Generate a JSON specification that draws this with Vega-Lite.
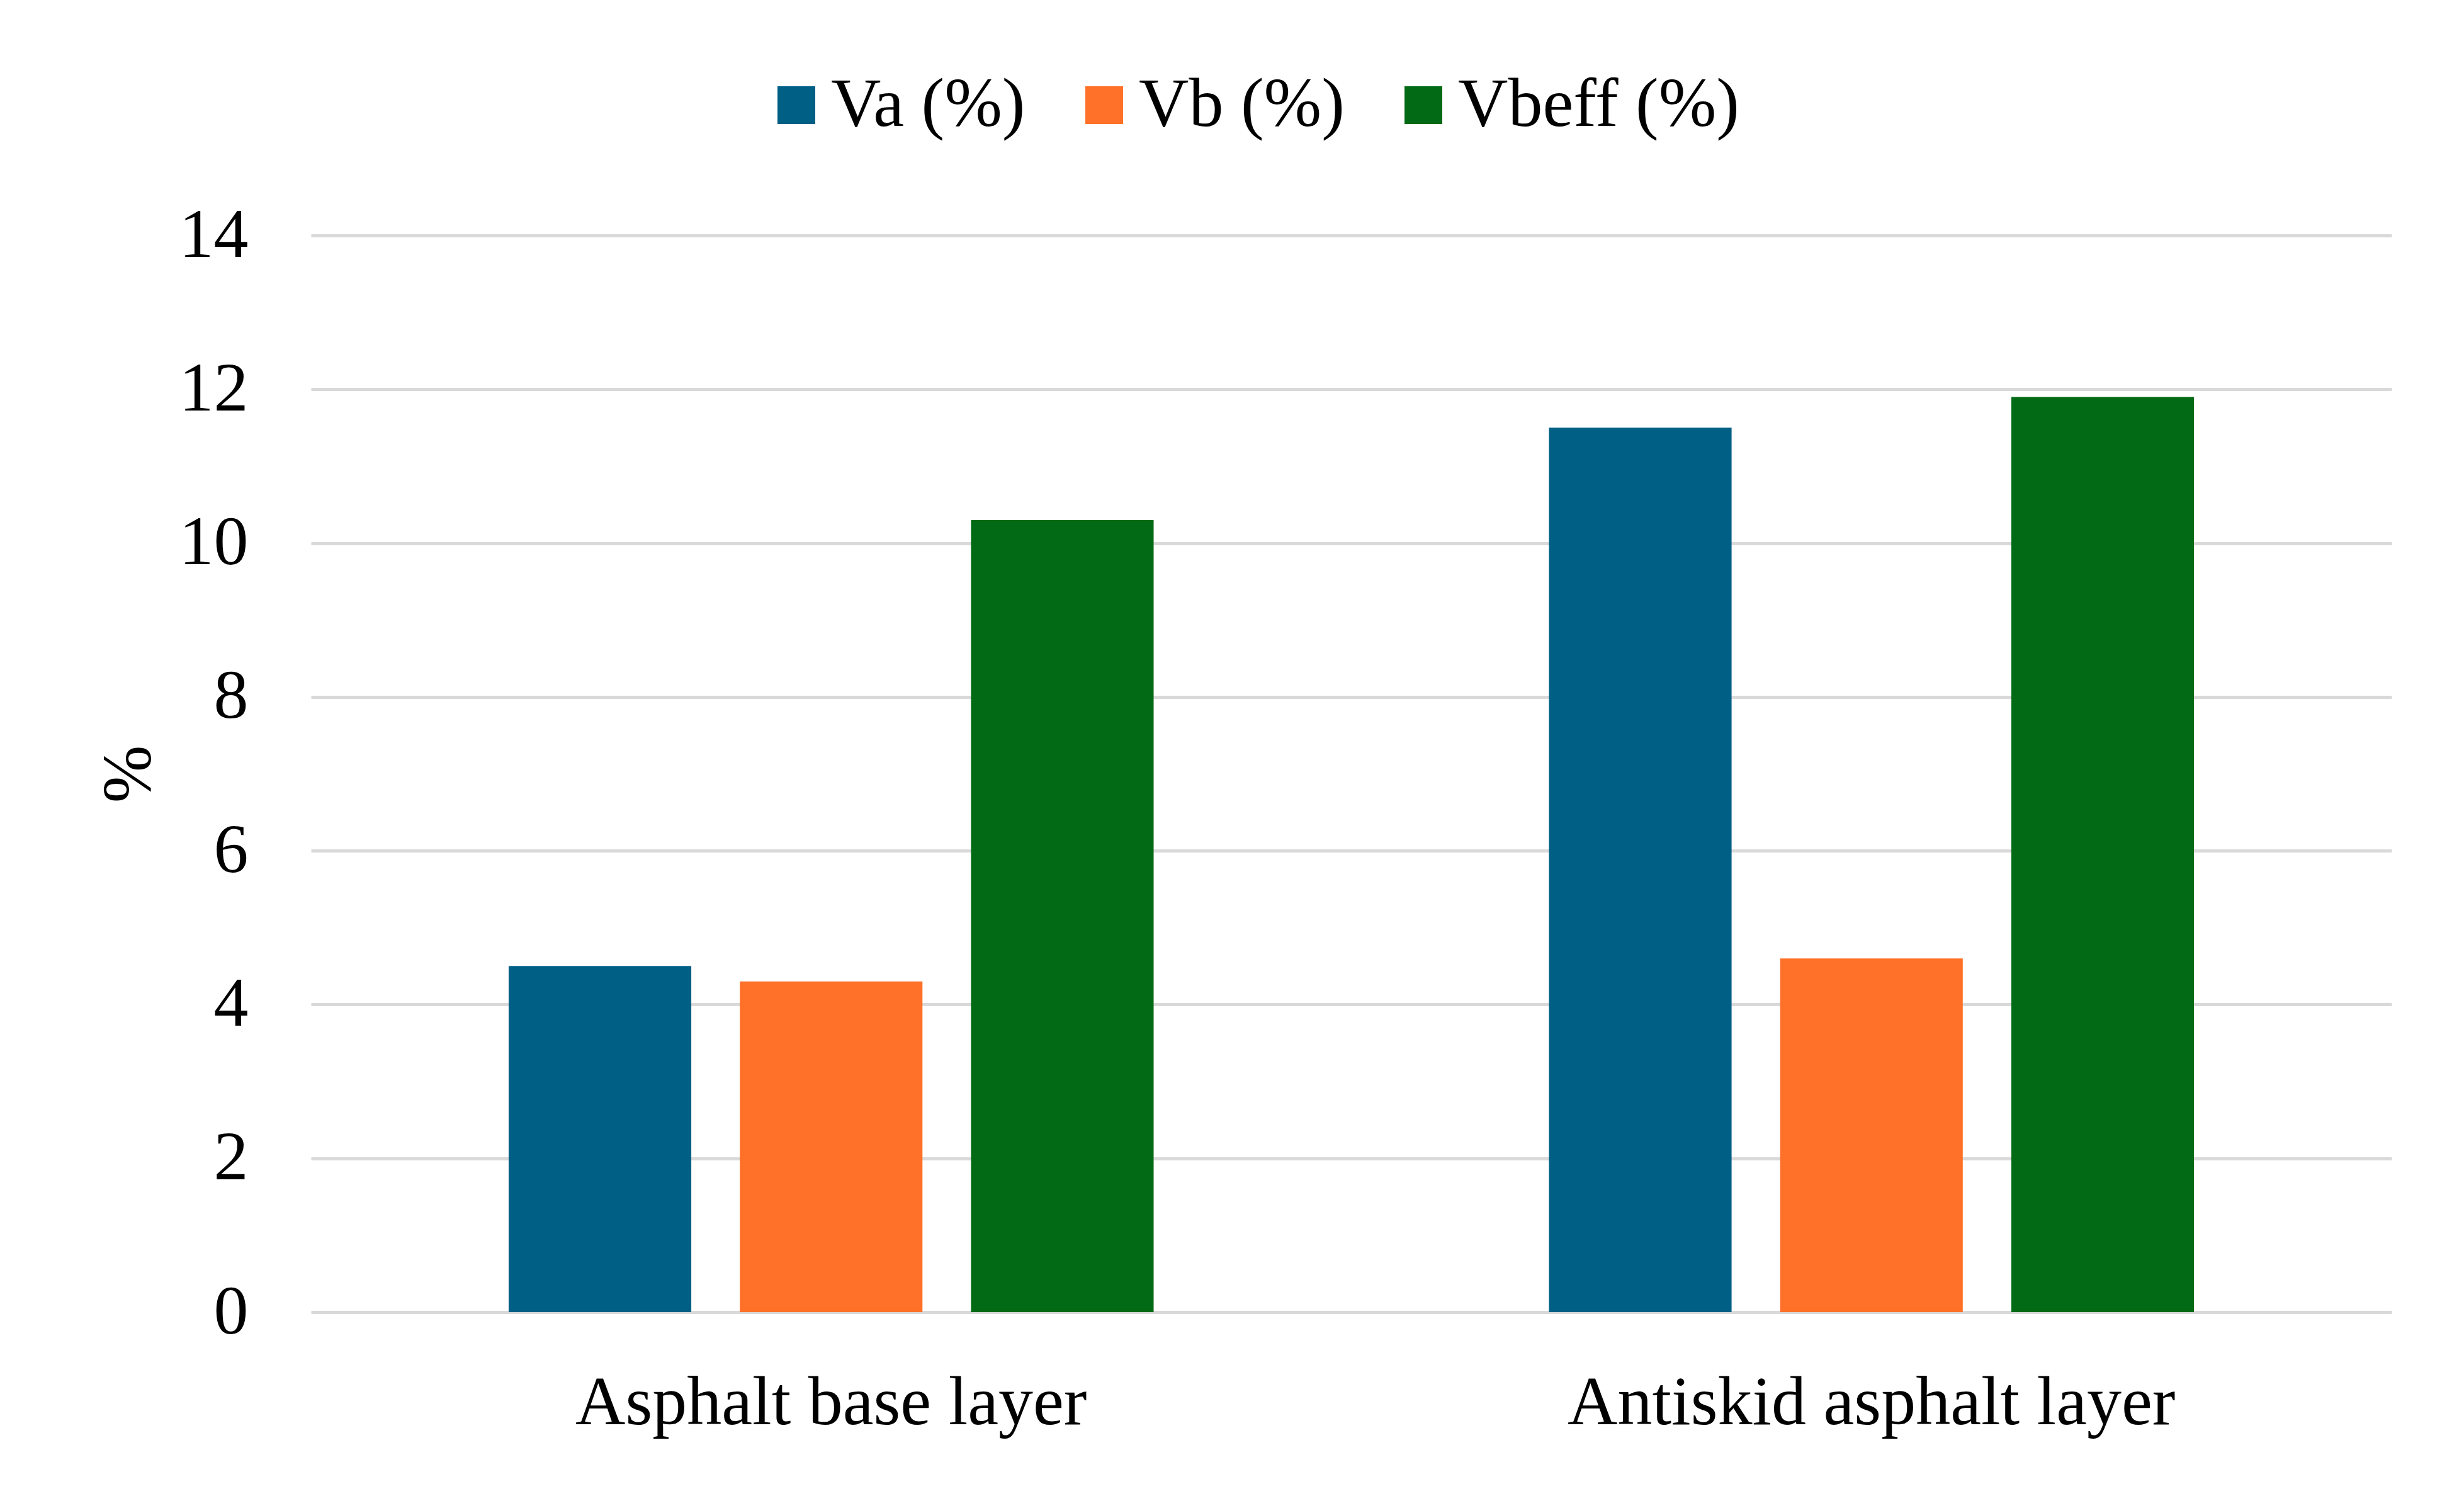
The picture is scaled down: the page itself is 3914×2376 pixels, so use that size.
{
  "$schema": "https://vega.github.io/schema/vega-lite/v6.json",
  "width": 3305,
  "height": 1710,
  "autosize": {"type": "none"},
  "padding": {"left": 494, "top": 374, "right": 115, "bottom": 292},
  "background": "white",
  "config": {"view": {"stroke": null}, "font": "Liberation Serif"},
  "data": {
    "values": [
      {"layer": "Asphalt base layer", "param": "Va (%)", "value": 4.5},
      {"layer": "Asphalt base layer", "param": "Vb (%)", "value": 4.3},
      {"layer": "Asphalt base layer", "param": "Vbeff (%)", "value": 10.3},
      {"layer": "Antiskid asphalt layer", "param": "Va (%)", "value": 11.5},
      {"layer": "Antiskid asphalt layer", "param": "Vb (%)", "value": 4.6},
      {"layer": "Antiskid asphalt layer", "param": "Vbeff (%)", "value": 11.9}
    ]
  },
  "mark": {"type": "bar"},
  "encoding": {
    "x": {
      "field": "layer",
      "type": "nominal",
      "sort": ["Asphalt base layer", "Antiskid asphalt layer"],
      "scale": {"paddingInner": 0.38, "paddingOuter": 0.19},
      "axis": {
        "title": null,
        "labelAngle": 0,
        "labelFontSize": 110,
        "labelColor": "black",
        "labelLimit": 0,
        "ticks": false,
        "tickSize": 0,
        "domain": false,
        "labelPadding": 90
      }
    },
    "xOffset": {
      "field": "param",
      "type": "nominal",
      "sort": ["Va (%)", "Vb (%)", "Vbeff (%)"],
      "scale": {"paddingInner": 0.21, "paddingOuter": 0}
    },
    "y": {
      "field": "value",
      "type": "quantitative",
      "scale": {"domain": [0, 14], "nice": false},
      "axis": {
        "values": [0, 2, 4, 6, 8, 10, 12, 14],
        "title": "%",
        "titleFontSize": 110,
        "titleFontWeight": "normal",
        "titleColor": "black",
        "titlePadding": 33,
        "labelFontSize": 110,
        "labelColor": "black",
        "labelPadding": 100,
        "ticks": false,
        "tickSize": 0,
        "domain": false,
        "grid": true,
        "gridColor": "#D9D9D9",
        "gridWidth": 5
      }
    },
    "color": {
      "field": "param",
      "type": "nominal",
      "sort": ["Va (%)", "Vb (%)", "Vbeff (%)"],
      "scale": {
        "domain": ["Va (%)", "Vb (%)", "Vbeff (%)"],
        "range": ["#005F85", "#FF7128", "#026A15"]
      },
      "legend": {
        "orient": "none",
        "legendX": 716,
        "legendY": -262,
        "direction": "horizontal",
        "title": null,
        "symbolType": "square",
        "symbolSize": 3600,
        "symbolStrokeWidth": 0,
        "labelFontSize": 110,
        "labelColor": "black",
        "labelLimit": 0,
        "labelOffset": 0,
        "columnPadding": 70
      }
    }
  }
}
